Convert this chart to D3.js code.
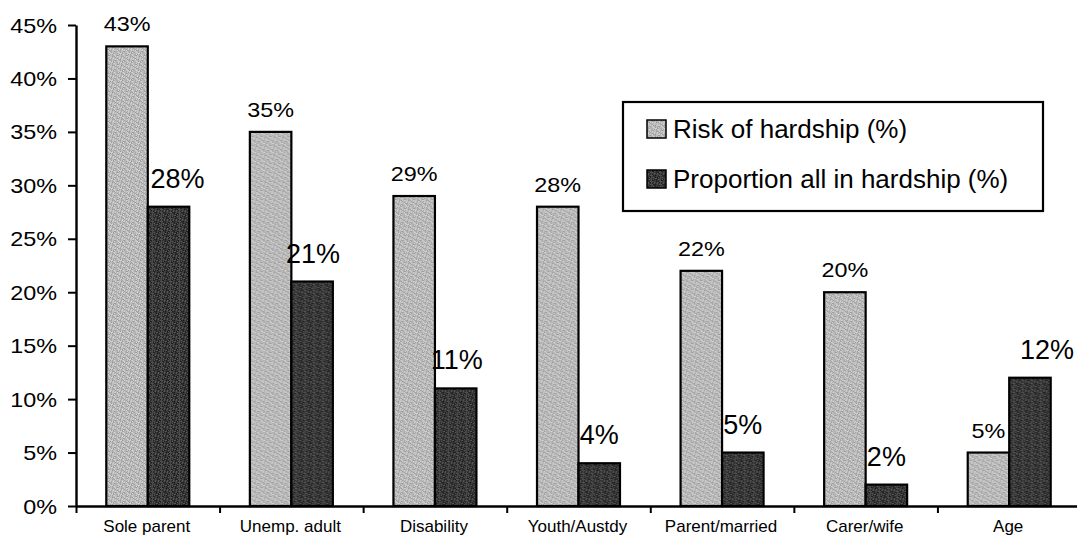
<!DOCTYPE html>
<html>
<head>
<meta charset="utf-8">
<script src="https://cdn.jsdelivr.net/npm/d3@7"></script>
<style>
  html, body { margin: 0; padding: 0; background: #fff; }
  svg { display: block; font-family: "Liberation Sans", Arial, sans-serif; }
</style>
</head>
<body>
<svg id="chart" width="1077" height="537"></svg>
<script>
// Hardship by payment group
const categories = ["Sole parent", "Unemp. adult", "Disability", "Youth/Austdy", "Parent/married", "Carer/wife", "Age"];
const seriesNames = ["Risk of hardship (%)", "Proportion all in hardship (%)"];
const riskOfHardship = [43, 35, 29, 28, 22, 20, 5];
const proportionInHardship = [28, 21, 11, 4, 5, 2, 12];
const yTickValues = [0, 5, 10, 15, 20, 25, 30, 35, 40, 45];

// small horizontal nudges for the dark-bar value labels
const darkLabelDx = [9, 1, 1, 0, 0, 0, 17];

const svg = d3.select("#chart");
const plot = { left: 76, right: 1081, top: 25, bottom: 506 };

// grainy textures for the two bar fills
const defs = svg.append("defs");
function grainPattern(id, shades) {
  const n = 9;
  const p = defs.append("pattern").attr("id", id)
    .attr("patternUnits", "userSpaceOnUse").attr("width", n).attr("height", n);
  for (let i = 0; i < n; i++) {
    for (let j = 0; j < n; j++) {
      const h = (i * 37 + j * 91 + i * j * 13) % 11;
      p.append("rect").attr("x", i).attr("y", j).attr("width", 1).attr("height", 1)
        .attr("fill", shades[h % shades.length]);
    }
  }
}
grainPattern("texLight", ["#9e9e9e", "#bdbdbd", "#d2d2d2", "#adadad", "#c6c6c6", "#b4b4b4"]);
grainPattern("texDark", ["#1e1e1e", "#404040", "#565656", "#2c2c2c", "#363636", "#4a4a4a"]);
const fills = ["url(#texLight)", "url(#texDark)"];

const x0 = d3.scaleBand().domain(categories).range([plot.left, plot.right]).paddingInner(0).paddingOuter(0);
const bw = x0.bandwidth();
const groupPad = bw * 0.211;
const x1 = d3.scaleBand().domain(seriesNames).range([groupPad, bw - groupPad]).padding(0);
const y = d3.scaleLinear().domain([0, 45]).range([plot.bottom, plot.top]);

const rows = categories.map((c, i) => ({ cat: c, i, vals: [riskOfHardship[i], proportionInHardship[i]] }));

// bars
const groups = svg.append("g").selectAll("g").data(rows).join("g")
  .attr("transform", d => `translate(${x0(d.cat)},0)`);

groups.selectAll("rect").data(d => d.vals.map((v, k) => ({ v, k, s: seriesNames[k] })))
  .join("rect")
  .attr("x", d => x1(d.s))
  .attr("y", d => y(d.v))
  .attr("width", x1.bandwidth())
  .attr("height", d => y(0) - y(d.v))
  .attr("fill", d => fills[d.k])
  .attr("stroke", "#000")
  .attr("stroke-width", 2.2);

// value labels on the light bars
groups.append("text")
  .attr("transform", d => `translate(${x1(seriesNames[0]) + x1.bandwidth() / 2},${y(d.vals[0]) - 15}) scale(1.17,1)`)
  .attr("text-anchor", "middle")
  .attr("font-size", 20)
  .attr("fill", "#000")
  .text(d => d.vals[0] + "%");

// value labels on the dark bars
groups.append("text")
  .attr("x", d => x1(seriesNames[1]) + x1.bandwidth() / 2 + darkLabelDx[d.i])
  .attr("y", d => y(d.vals[1]) - 19)
  .attr("text-anchor", "middle")
  .attr("font-size", 27)
  .attr("fill", "#000")
  .text(d => d.vals[1] + "%");

// y axis
const yAxis = svg.append("g").attr("transform", `translate(${plot.left},0)`)
  .call(d3.axisLeft(y).tickValues(yTickValues).tickSize(8).tickSizeOuter(0).tickFormat(d => d + "%"));
yAxis.select(".domain").attr("stroke", "#000").attr("stroke-width", 2.4);
yAxis.selectAll(".tick line").attr("stroke", "#000").attr("stroke-width", 2);
yAxis.selectAll(".tick text")
  .attr("x", null).attr("dy", null)
  .attr("font-size", 20).attr("fill", "#000")
  .attr("font-family", "'Liberation Sans', Arial, sans-serif")
  .attr("text-anchor", "end")
  .attr("transform", "translate(-19,7) scale(1.17,1)");

// x axis: ticks at the category boundaries
const xEdge = d3.scaleLinear().domain([0, categories.length]).range([plot.left, plot.right]);
const xAxis = svg.append("g").attr("transform", `translate(0,${plot.bottom})`)
  .call(d3.axisBottom(xEdge).tickValues(d3.range(0, categories.length + 1)).tickSize(7).tickSizeOuter(0).tickFormat(""));
xAxis.select(".domain").attr("stroke", "#000").attr("stroke-width", 2.4);
xAxis.selectAll(".tick line").attr("stroke", "#000").attr("stroke-width", 2);

// category labels
svg.append("g").selectAll("text").data(categories).join("text")
  .attr("x", d => x0(d) + bw / 2 - 1)
  .attr("y", 532)
  .attr("text-anchor", "middle")
  .attr("font-size", 17)
  .attr("fill", "#000")
  .text(d => d);

// legend
const legend = svg.append("g");
legend.append("rect")
  .attr("x", 623).attr("y", 102).attr("width", 420).attr("height", 109)
  .attr("fill", "#fff").attr("stroke", "#000").attr("stroke-width", 2.2);
const items = legend.selectAll("g.item").data(seriesNames).join("g")
  .attr("class", "item")
  .attr("transform", (d, i) => `translate(647,${120 + i * 50})`);
items.append("rect")
  .attr("width", 19).attr("height", 18)
  .attr("fill", (d, i) => fills[i])
  .attr("stroke", "#000").attr("stroke-width", 1.5);
items.append("text")
  .attr("x", 26).attr("y", 18)
  .attr("font-size", 26)
  .attr("fill", "#000")
  .text(d => d);
</script>
</body>
</html>
